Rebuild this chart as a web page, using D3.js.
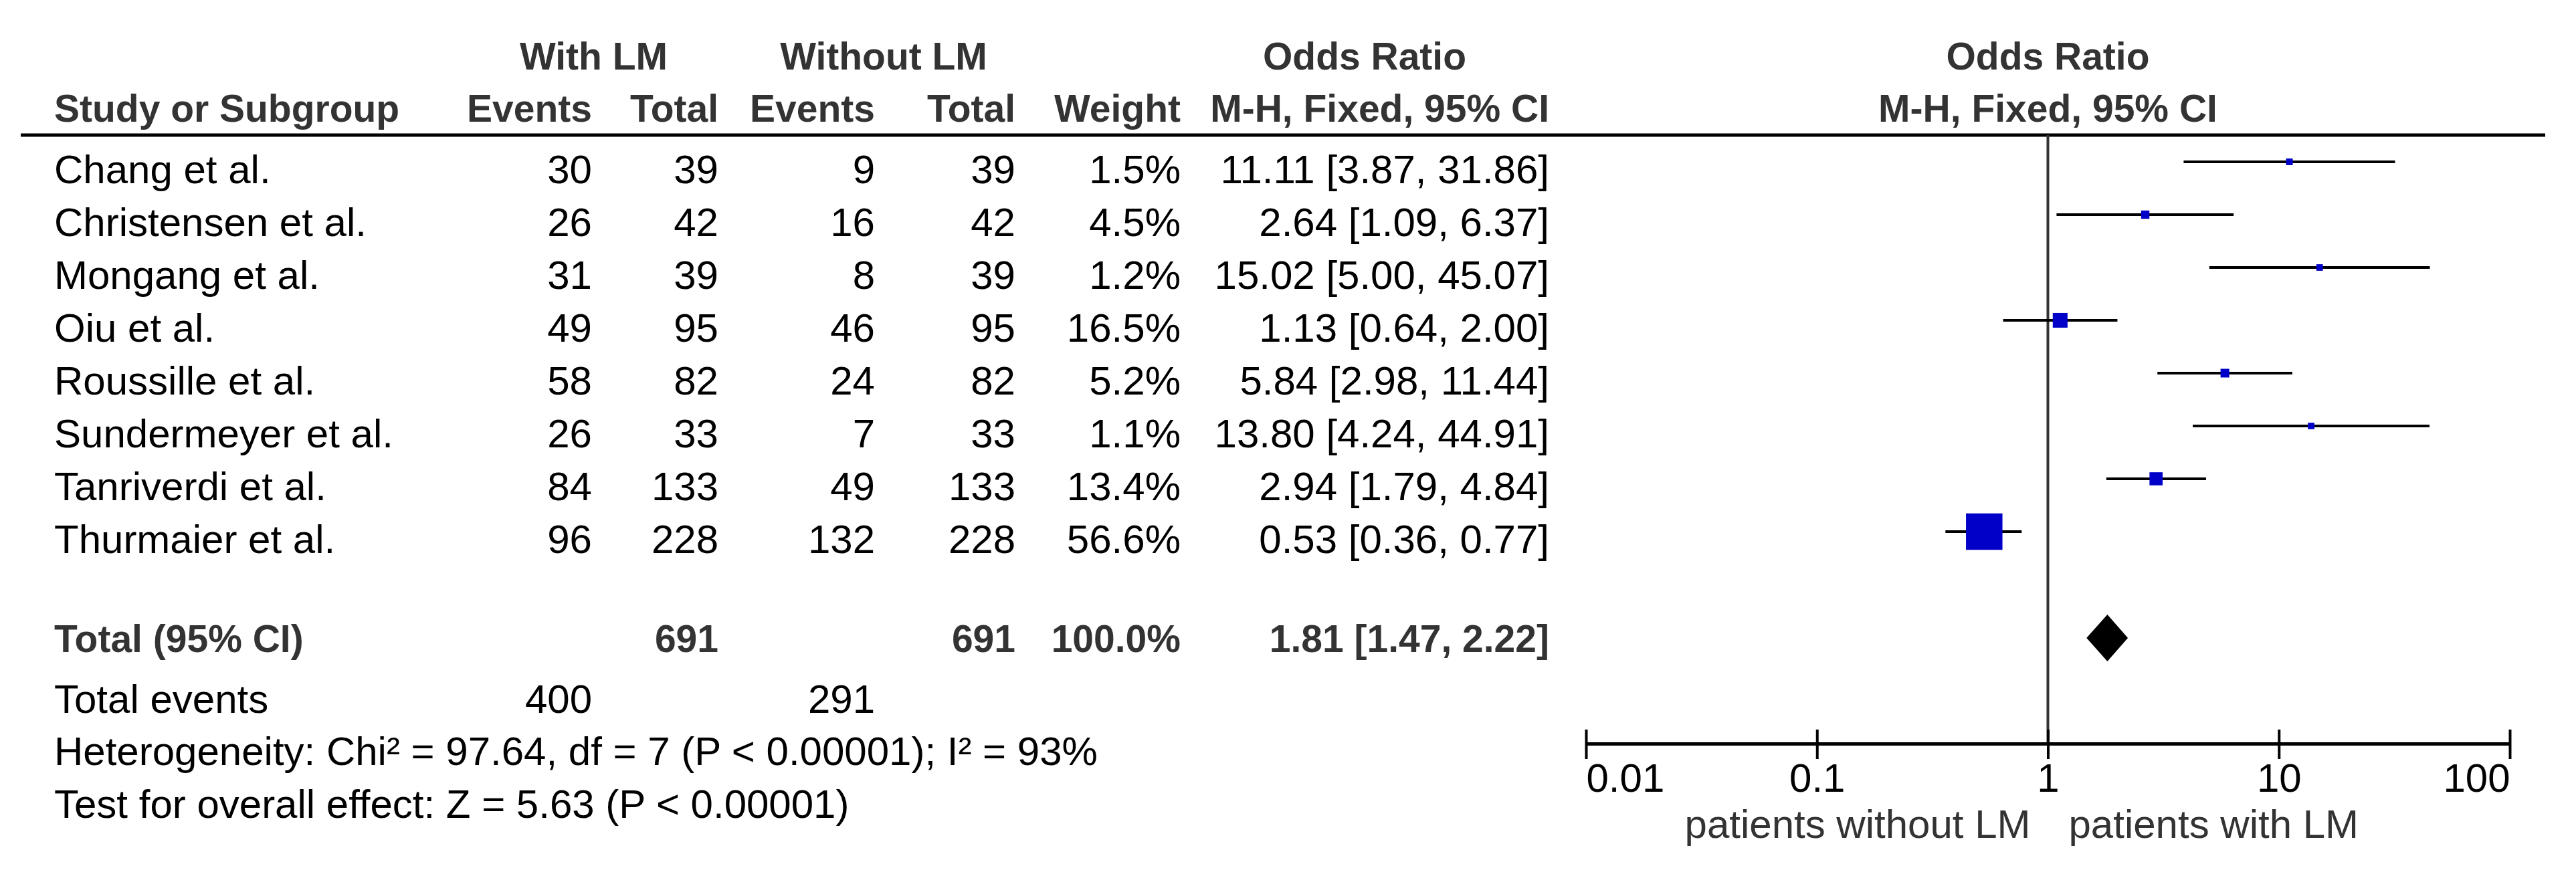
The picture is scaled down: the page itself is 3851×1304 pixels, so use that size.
<!DOCTYPE html>
<html>
<head>
<meta charset="utf-8">
<script src="https://cdn.jsdelivr.net/npm/d3@7/dist/d3.min.js"></script>
<style>
  html, body { margin: 0; padding: 0; background: #fff; }
  svg text { font-family: "Liberation Sans", Arial, sans-serif; }
</style>
</head>
<body>
<div id="forest"></div>
<script>
// study level data
var studies = ["Chang et al.", "Christensen et al.", "Mongang et al.", "Oiu et al.",
               "Roussille et al.", "Sundermeyer et al.", "Tanriverdi et al.", "Thurmaier et al."];
var eventsWith    = [30, 26, 31, 49, 58, 26, 84, 96];
var totalWith     = [39, 42, 39, 95, 82, 33, 133, 228];
var eventsWithout = [9, 16, 8, 46, 24, 7, 49, 132];
var totalWithout  = [39, 42, 39, 95, 82, 33, 133, 228];
var weights       = [1.5, 4.5, 1.2, 16.5, 5.2, 1.1, 13.4, 56.6];
var oddsRatio     = [11.11, 2.64, 15.02, 1.13, 5.84, 13.80, 2.94, 0.53];
var ciLower       = [3.87, 1.09, 5.00, 0.64, 2.98, 4.24, 1.79, 0.36];
var ciUpper       = [31.86, 6.37, 45.07, 2.00, 11.44, 44.91, 4.84, 0.77];

// pooled result
var pooled = {total1: 691, total2: 691, weight: 100.0, or: 1.81, lo: 1.47, hi: 2.22,
              events1: 400, events2: 291};
var heterogeneityText = "Heterogeneity: Chi\u00B2 = 97.64, df = 7 (P < 0.00001); I\u00B2 = 93%";
var overallText = "Test for overall effect: Z = 5.63 (P < 0.00001)";

var axisTicks = [0.01, 0.1, 1, 10, 100];
var axisLabels = ["0.01", "0.1", "1", "10", "100"];
var favourLeft = "patients without LM", favourRight = "patients with LM";

var width = 3851, height = 1304;

var svg = d3.select("#forest").append("svg")
    .attr("width", width)
    .attr("height", height)
    .style("display", "block");

svg.append("rect").attr("width", width).attr("height", height).attr("fill", "#fff");

// scales
var x = d3.scaleLog().domain([0.01, 100]).range([2371, 3752]);
var rowY = d3.scaleLinear().domain([0, studies.length - 1]).range([274, 827]); // text baselines
var boxSize = d3.scaleLinear().domain([1.5, 56.6]).range([10, 54.5]);

// column positions (right edges unless noted)
var col = {study: 81, ev1: 885, tot1: 1074, ev2: 1308, tot2: 1518, weight: 1765, ci: 2316};

function txt(g, xPos, yPos, s, anchor, bold) {
  return g.append("text")
    .attr("x", xPos).attr("y", yPos)
    .attr("text-anchor", anchor || "start")
    .style("font-size", bold ? "57px" : "60px")
    .style("font-weight", bold ? "bold" : "normal")
    .attr("fill", bold ? "#333" : "#000")
    .text(s);
}

var fmt2 = d3.format(".2f");
function ciText(o, l, h) { return fmt2(o) + " [" + fmt2(l) + ", " + fmt2(h) + "]"; }

// headers
var head = svg.append("g").attr("class", "header");
txt(head, (col.ev1 - 184 + col.tot1) / 2, 104, "With LM", "middle", true);
txt(head, (col.ev2 - 184 + col.tot2) / 2, 104, "Without LM", "middle", true);
txt(head, 2040, 104, "Odds Ratio", "middle", true);
txt(head, x(1), 104, "Odds Ratio", "middle", true);
txt(head, col.study, 182, "Study or Subgroup", "start", true);
txt(head, col.ev1, 182, "Events", "end", true);
txt(head, col.tot1, 182, "Total", "end", true);
txt(head, col.ev2, 182, "Events", "end", true);
txt(head, col.tot2, 182, "Total", "end", true);
txt(head, col.weight, 182, "Weight", "end", true);
txt(head, col.ci, 182, "M-H, Fixed, 95% CI", "end", true);
txt(head, x(1), 182, "M-H, Fixed, 95% CI", "middle", true);

svg.append("line")
    .attr("x1", 31).attr("x2", 3805)
    .attr("y1", 202).attr("y2", 202)
    .attr("stroke", "#000").attr("stroke-width", 5);

// study rows
var rows = svg.append("g").attr("class", "rows");
studies.forEach(function(s, i) {
  var y = rowY(i);
  txt(rows, col.study, y, s);
  txt(rows, col.ev1, y, eventsWith[i], "end");
  txt(rows, col.tot1, y, totalWith[i], "end");
  txt(rows, col.ev2, y, eventsWithout[i], "end");
  txt(rows, col.tot2, y, totalWithout[i], "end");
  txt(rows, col.weight, y, weights[i].toFixed(1) + "%", "end");
  txt(rows, col.ci, y, ciText(oddsRatio[i], ciLower[i], ciUpper[i]), "end");
});

// total rows
var tot = svg.append("g").attr("class", "totals");
var yTot = 975;
txt(tot, col.study, yTot, "Total (95% CI)", "start", true);
txt(tot, col.tot1, yTot, pooled.total1, "end", true);
txt(tot, col.tot2, yTot, pooled.total2, "end", true);
txt(tot, col.weight, yTot, pooled.weight.toFixed(1) + "%", "end", true);
txt(tot, col.ci, yTot, ciText(pooled.or, pooled.lo, pooled.hi), "end", true);
txt(tot, col.study, 1066, "Total events");
txt(tot, col.ev1, 1066, pooled.events1, "end");
txt(tot, col.ev2, 1066, pooled.events2, "end");
txt(tot, col.study, 1144, heterogeneityText);
txt(tot, col.study, 1223, overallText);

// plot: line of no effect
var plot = svg.append("g").attr("class", "plot");
var axisY = 1112;
plot.append("line")
    .attr("x1", x(1)).attr("x2", x(1))
    .attr("y1", 202).attr("y2", axisY)
    .attr("stroke", "#333").attr("stroke-width", 4);

// confidence intervals and boxes
var marks = plot.selectAll("g.study")
    .data(studies.map(function(s, i) {
      return {or: oddsRatio[i], lo: ciLower[i], hi: ciUpper[i], w: weights[i], y: rowY(i) - 32};
    }))
    .enter().append("g").attr("class", "study");

marks.append("line")
    .attr("x1", function(d) { return x(d.lo); })
    .attr("x2", function(d) { return x(d.hi); })
    .attr("y1", function(d) { return d.y; })
    .attr("y2", function(d) { return d.y; })
    .attr("stroke", "#000").attr("stroke-width", 4);

marks.append("rect")
    .attr("x", function(d) { return x(d.or) - boxSize(d.w) / 2; })
    .attr("y", function(d) { return d.y - boxSize(d.w) / 2; })
    .attr("width", function(d) { return boxSize(d.w); })
    .attr("height", function(d) { return boxSize(d.w); })
    .attr("fill", "#0000c8");

// pooled diamond
var dY = 954, dH = 35;
plot.append("path")
    .attr("d", "M" + x(pooled.lo) + "," + dY +
               "L" + x(pooled.or) + "," + (dY - dH) +
               "L" + x(pooled.hi) + "," + dY +
               "L" + x(pooled.or) + "," + (dY + dH) + "Z")
    .attr("fill", "#000");

// axis
var axis = d3.axisBottom(x)
    .tickValues(axisTicks)
    .tickFormat(function(d, i) { return axisLabels[i]; })
    .tickSizeInner(23)
    .tickSizeOuter(0);

var gAxis = plot.append("g")
    .attr("transform", "translate(0," + axisY + ")")
    .call(axis);

gAxis.select(".domain").attr("stroke", "#000").attr("stroke-width", 5);
gAxis.selectAll(".tick line")
    .attr("y1", -21).attr("y2", 23)
    .attr("stroke", "#000").attr("stroke-width", 4);
gAxis.selectAll(".tick text")
    .attr("y", 72).attr("dy", null)
    .attr("fill", "#000")
    .style("font-size", "60px")
    .style("font-family", "'Liberation Sans', Arial, sans-serif")
    .attr("text-anchor", function(d, i) {
      return i === 0 ? "start" : (i === axisTicks.length - 1 ? "end" : "middle");
    });

txt(plot, x(1) - 26, 1253, favourLeft, "end").attr("fill", "#333");
txt(plot, x(1) + 31, 1253, favourRight, "start").attr("fill", "#333");
</script>
</body>
</html>
